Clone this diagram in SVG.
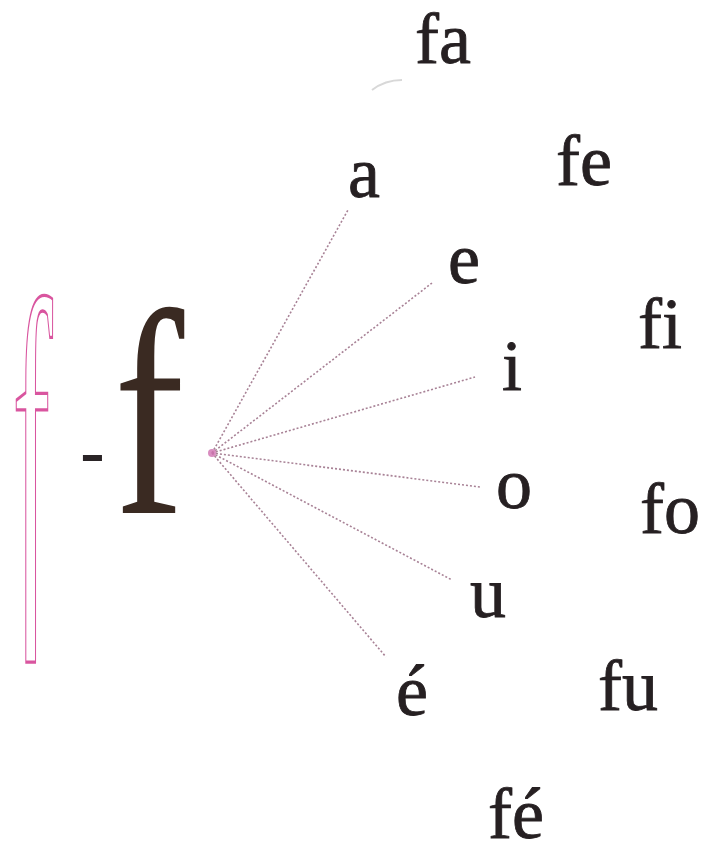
<svg xmlns="http://www.w3.org/2000/svg" width="710" height="854" viewBox="0 0 710 854">
<style>
.t{font-family:"Liberation Serif","Times New Roman",serif;font-size:72px;fill:#262022;stroke:#262022;stroke-width:0.8}
.ln{stroke:#a88296;stroke-width:1.6;stroke-dasharray:2 2;fill:none}
</style>
<rect width="710" height="854" fill="#fff"/>
<g id="cursive-f">
<text x="0" y="0" transform="translate(20,577) skewX(3) scale(0.3,1)" font-family="Liberation Serif, serif" font-style="italic" font-size="400" fill="none" stroke="#d9559f" stroke-width="2.5" vector-effect="non-scaling-stroke">f</text>
</g>
<g id="hyphen"><text x="0" y="0" transform="translate(80,471) scale(1.5,1)" font-family="Liberation Sans, Arial, sans-serif" font-weight="bold" font-size="50" fill="#2a2426">-</text></g>
<g id="big-f">
<text x="0" y="0" transform="translate(114,513) scale(0.72,1)" font-family="Liberation Serif, serif" font-size="293" fill="#3a2a22">f</text>
</g>
<g id="connectors">
<line class="ln" x1="212" y1="453" x2="348" y2="210"/>
<line class="ln" x1="212" y1="453" x2="432" y2="283"/>
<line class="ln" x1="212" y1="453" x2="475" y2="377"/>
<line class="ln" x1="212" y1="453" x2="480" y2="487" stroke="#c07a9e"/>
<line class="ln" x1="212" y1="453" x2="452" y2="580"/>
<line class="ln" x1="212" y1="453" x2="386" y2="657"/>
<circle cx="212" cy="453" r="4" fill="#d070b0" opacity="0.8"/>
</g>
<g id="vowels">
<text class="t" x="348" y="197">a</text>
<text class="t" x="448" y="283">e</text>
<text class="t" x="502" y="390">i</text>
<text class="t" x="496" y="508">o</text>
<text class="t" x="470" y="617">u</text>
<text class="t" x="396" y="715">é</text>
</g>
<g id="syllables">
<text class="t" x="415" y="63">fa</text>
<text class="t" x="556" y="185">fe</text>
<text class="t" x="638" y="348">fi</text>
<text class="t" x="640" y="533">fo</text>
<text class="t" x="598" y="710">fu</text>
<text class="t" x="488" y="838">fé</text>
</g>
<path d="M372,90 Q385,80 402,80" stroke="#d8d8d8" stroke-width="2" fill="none"/>
</svg>
